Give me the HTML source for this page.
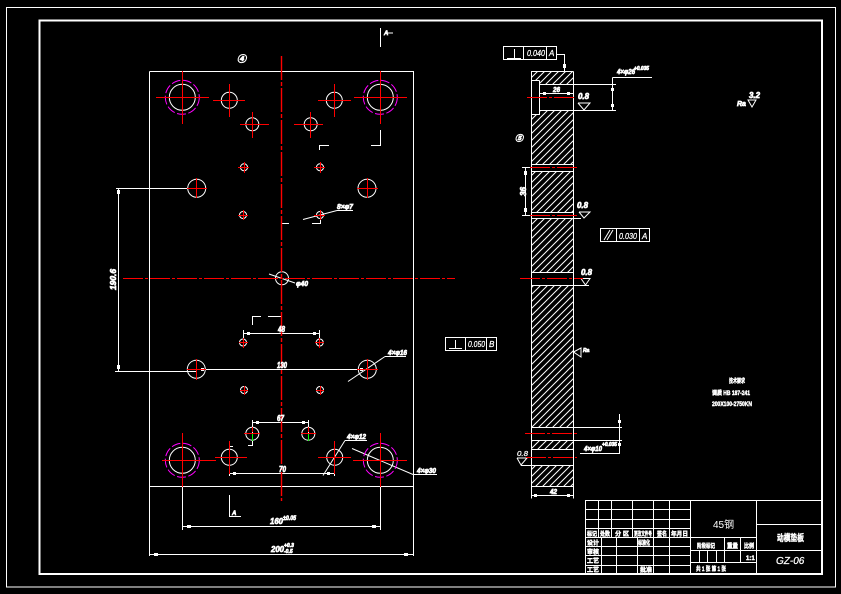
<!DOCTYPE html>
<html><head><meta charset="utf-8">
<style>
html,body{margin:0;padding:0;background:#000;width:841px;height:594px;overflow:hidden}
svg{display:block}
text{font-family:"Liberation Sans","Noto Sans CJK SC",sans-serif;fill:#fff;font-weight:bold}
.i{font-style:italic;stroke:#fff;stroke-width:.7}
.c{stroke:#fff;stroke-width:.45}
.t{font-weight:normal;font-style:italic;stroke:#fff;stroke-width:.25}
</style></head><body>
<svg width="841" height="594" viewBox="0 0 841 594" xmlns="http://www.w3.org/2000/svg">
<defs>
<pattern id="h" width="7" height="7" patternUnits="userSpaceOnUse">
<path d="M-1,1L1,-1M0,7L7,0M6,8L8,6" stroke="#fff" stroke-width="1"/>
</pattern>
</defs>
<rect width="841" height="594" fill="#000"/>
<!-- frames -->
<g fill="none" stroke="#fff" shape-rendering="crispEdges">
<rect x="6.5" y="7.5" width="829" height="579.5" stroke-width="1"/>
<rect x="39.5" y="20.5" width="782.5" height="553.5" stroke-width="2"/>
</g>

<!-- hatches -->
<g fill="url(#h)">
<rect x="531" y="71" width="42" height="13"/>
<rect x="531" y="110" width="42" height="54"/>
<rect x="531" y="171" width="42" height="41"/>
<rect x="531" y="219" width="42" height="54"/>
<rect x="531" y="285" width="42" height="142"/>
<rect x="531" y="440" width="42" height="9"/>
<rect x="531" y="465" width="42" height="22"/>
</g>
<rect x="532" y="81" width="7" height="33" fill="#000"/>

<!-- white lines -->
<g fill="none" stroke="#fff" stroke-width="1" shape-rendering="crispEdges">
<path d="M149.5,71.5H413.5V556M149.5,71.5V556M149.5,486.5H413.5"/>
<path d="M149.5,554.5H413.5M182.5,473V530M380.5,473V530M182.5,526.5H380.5"/>
<path d="M118.5,188.5V371.5M116,188.5H188M115,371.5H196M196.5,369.5H367"/>
<path d="M243.5,330V347M319.5,330V347M243.5,333.5H319.5"/>
<path d="M252.5,420V433M308.5,420V433M252.5,422.5H308.5"/>
<path d="M229.5,465V476M334.5,457V476M229.5,473.5H334.5"/>
<!-- section marks -->
<path d="M380.5,28V47M388,33H393M380.5,130V145.5H371M319.5,150V145.5H329M281,223.5H289M312,223.5H320.5V215"/>
<path d="M252.5,325V316.5H261M268,316.5H281M252.5,433V445.5H248M229.5,456V446.5H233M229.5,495V516.5H241"/>
<!-- leaders -->
<path d="M337,210.5H353"/><path d="M385,356.5H406"/><path d="M345,440.5H367"/><path d="M413,474.5H437"/>

<!-- side view -->
<path d="M531.5,71.5H573.5M531.5,71.5V498.5M573.5,71.5V498.5"/>
<path d="M539.5,80.5H531.5M539.5,80.5V114.5H531.5M539.5,84.5H616M539.5,110.5H616"/>
<path d="M531.5,164.5H573.5M531.5,171.5H573.5M531.5,212.5H573.5M531.5,218.5H581M531.5,272.5H573.5M531.5,285.5H589"/>
<path d="M531.5,427.5H622M531.5,440.5H622M531.5,449.5H573.5M521,465.5H573.5M531.5,486.5H573.5"/>
<path d="M531.5,495.5H573.5M540,93.5H573.5"/>
<path d="M612.5,84.5V110.5M612.5,77.5H652M612.5,77.5V84.5"/>
<path d="M525.5,167.5V215.5M522,167.5H531M522,215.5H531"/>
<path d="M619.5,414V453.5H580"/>
<!-- FCF boxes -->
<rect x="503.5" y="46.5" width="53" height="13"/>
<path d="M523.5,46.5V59.5M546.5,46.5V59.5M556.5,54.5H564.5V71M507,58.5H521M514.5,49V58"/>
<rect x="600.5" y="228.5" width="49" height="13"/>
<path d="M616.5,228.5V241.5M639.5,228.5V241.5"/>
<rect x="445.5" y="337.5" width="51" height="13"/>
<path d="M465.5,337.5V350.5M486.5,337.5V350.5M449,348.5H462M455.5,340V348"/>
<!-- title block -->
<rect x="585.5" y="500.5" width="236.5" height="73"/>
<path d="M585.5,509.5H690.5M585.5,519.5H690.5M585.5,528.5H690.5M585.5,537.5H756.5M585.5,546.5H690.5M585.5,555.5H690.5M585.5,565.5H690.5"/>
<path d="M598.5,500.5V537.5M611.5,500.5V537.5M632.5,500.5V537.5M653.5,500.5V574M669.5,500.5V574M690.5,500.5V574M756.5,500.5V574"/>
<path d="M601.5,537.5V574M616.5,537.5V574M637.5,537.5V574"/>
<path d="M756.5,524.5H822M756.5,550.5H822M690.5,550.5H756.5M690.5,562.5H756.5"/>
<path d="M724.5,537.5V562.5M740.5,537.5V562.5M699.5,550.5V562.5M707.5,550.5V562.5M716.5,550.5V562.5"/>
</g>

<!-- arrowheads -->
<g stroke="#fff" stroke-width="3" shape-rendering="crispEdges" fill="none">
<path d="M118.5,365V369M118.5,190V194M187,526.5H191M372,526.5H376M154,554.5H158M404,554.5H408"/>
<path d="M247,333.5H250M313,333.5H316M256,422.5H259M302,422.5H305M233,473.5H236M327,473.5H330M201,369.5H204M360,369.5H363"/>
<path d="M564.5,64V68M543,93.5H546M567,93.5H570M612.5,88V91M612.5,104V107M525.5,171V175M525.5,208V212"/>
<path d="M619.5,420V423M619.5,443V446M534,495.5H537M567,495.5H570"/>
</g>

<!-- slanted leaders -->
<g stroke="#fff" stroke-width="1" fill="none">
<path d="M269,274L295,283"/>
<path d="M303,219.5L337,210.5"/>
<path d="M348,381.5L385,356.5"/>
<path d="M323,475.5L345,440.5"/>
<path d="M352,448.5L413,474.5"/>
<!-- roughness -->
<path d="M578,103H590L584,110L578,103M579,212H590L584,218L579,212M581,278.5H590L585.5,285L581,278.5"/>
<path d="M517,458H527L521,465L517,458"/>
<path d="M573.5,352L581,348V357Z"/>
<path d="M748,100H756L752,107Z"/>
<!-- parallelism -->
<path d="M604,240L610,230M607,240L613,230"/>
</g>

<!-- holes -->
<g fill="none" stroke="#fff" stroke-width="1">
<circle cx="182.3" cy="97.3" r="13"/><circle cx="380.3" cy="97.3" r="13"/>
<circle cx="182.3" cy="460.3" r="13"/><circle cx="380.3" cy="460.3" r="13"/>
<circle cx="229.3" cy="100.3" r="8"/><circle cx="334.3" cy="100.3" r="8"/>
<circle cx="252.3" cy="124.3" r="6.5"/><circle cx="310.7" cy="124.3" r="6.5"/>
<circle cx="244" cy="167.3" r="3.5"/><circle cx="320" cy="167.3" r="3.5"/>
<circle cx="243" cy="215" r="3.5"/><circle cx="320" cy="215" r="3.5"/>
<circle cx="196.7" cy="188.3" r="9"/><circle cx="367" cy="188.3" r="9"/>
<circle cx="282" cy="278.3" r="6.5"/>
<circle cx="196.3" cy="369.3" r="9"/><circle cx="367.3" cy="369.3" r="9"/>
<circle cx="243" cy="342.5" r="3.5"/><circle cx="319.7" cy="342.5" r="3.5"/>
<circle cx="244" cy="390" r="3.5"/><circle cx="320" cy="390" r="3.5"/>
<circle cx="252.3" cy="433.7" r="6.5"/><circle cx="308.3" cy="433.7" r="6.5"/>
<circle cx="229.3" cy="457.3" r="8"/><circle cx="334.7" cy="457.3" r="8"/>
</g>
<g fill="none" stroke="#f0f" stroke-width="1" stroke-dasharray="9 2.5">
<circle cx="182.3" cy="97.3" r="17"/><circle cx="380.3" cy="97.3" r="17"/>
<circle cx="182.3" cy="460.3" r="17"/><circle cx="380.3" cy="460.3" r="17"/>
</g>

<!-- red center lines -->
<g stroke="#f00" stroke-width="1" fill="none" shape-rendering="crispEdges">
<path d="M156,97.5H209M182.5,71V124M354,97.5H407M380.5,71V124"/>
<path d="M162,460.5H216M182.5,433V487M353,460.5H407M380.5,433V487"/>
<path d="M213,100.5H245M229.5,84V117M318,100.5H351M334.5,84V117"/>
<path d="M240,124.5H269M252.5,112V138M294,124.5H323M310.5,112V138"/>
<path d="M238,167.5H249M244.5,162V173M314,167.5H325M320.5,162V173M238,215.5H248M243.5,210V220M314,215.5H325M320.5,210V220"/>
<path d="M187,188.5H207M196.5,178V198M357,188.5H378M367.5,178V198"/>
<path d="M187,369.5H206M196.5,359V380M357,369.5H378M367.5,359V380"/>
<path d="M239,342.5H248M243.5,338V348M315,342.5H324M319.5,338V348M240,390.5H248M244.5,386V395M316,390.5H324M320.5,386V395"/>
<path d="M244,433.5H260M252.5,427V432M301,433.5H316M308.5,427V432"/>
<path d="M215,457.5H247M229.5,441V474M318,457.5H351M334.5,441V474"/>
<path d="M123,278.5H455" stroke-dasharray="20 2 3 2"/>
<path d="M527,97.5H576M530,167.5H579M530,215.5H577M520,278.5H583M525,433.5H577M526,457.5H577" stroke-dasharray="20 2 3 2"/>
</g>
<path d="M281.5,56V501" fill="none" stroke="#ff0000" stroke-width="1.4" stroke-dasharray="24 2 4 2"/>
<g stroke="#0f0" stroke-width="1" shape-rendering="crispEdges" fill="none"><path d="M252.5,434V441M308.5,434V441"/></g>

<!-- labels -->
<g font-size="8">
<text class="i" x="237" y="62" font-size="9">④</text>
<text class="i" x="384" y="35" font-size="6">A</text>
<text class="i" x="232" y="515" font-size="6">A</text>
<text class="i" x="337" y="209" font-size="7" textLength="16" lengthAdjust="spacingAndGlyphs">8×φ7</text>
<text class="i" x="296" y="286" font-size="7" textLength="12" lengthAdjust="spacingAndGlyphs">φ40</text>
<text class="i" x="278" y="332" font-size="8" textLength="7" lengthAdjust="spacingAndGlyphs">48</text>
<text class="i" x="277" y="368" font-size="8" textLength="10" lengthAdjust="spacingAndGlyphs">130</text>
<text class="i" x="277" y="421" font-size="8" textLength="7" lengthAdjust="spacingAndGlyphs">67</text>
<text class="i" x="279" y="472" font-size="8" textLength="7" lengthAdjust="spacingAndGlyphs">70</text>
<text class="i" x="388" y="355" font-size="7" textLength="19" lengthAdjust="spacingAndGlyphs">4×φ16</text>
<text class="i" x="347" y="439" font-size="7" textLength="19" lengthAdjust="spacingAndGlyphs">4×φ12</text>
<text class="i" x="417" y="473" font-size="7" textLength="19" lengthAdjust="spacingAndGlyphs">4×φ30</text>
<text class="i" x="270" y="524" font-size="8" textLength="13" lengthAdjust="spacingAndGlyphs">160</text><text class="i" x="283" y="520" font-size="6" textLength="13" lengthAdjust="spacingAndGlyphs">±0.05</text>
<text class="i" x="271" y="552" font-size="8" textLength="13" lengthAdjust="spacingAndGlyphs">200</text><text class="i" x="284" y="547" font-size="5">+0.3</text><text class="i" x="284" y="553" font-size="5">-0.5</text>
<text class="i" transform="translate(116,290) rotate(-90)" font-size="8" textLength="21" lengthAdjust="spacingAndGlyphs">190.6</text>
<text class="i" transform="translate(526,196) rotate(-90)" font-size="8" textLength="9" lengthAdjust="spacingAndGlyphs">36</text>
<text class="i" x="553" y="92" font-size="7" textLength="7" lengthAdjust="spacingAndGlyphs">26</text>
<text class="i" x="550" y="494" font-size="7" textLength="7" lengthAdjust="spacingAndGlyphs">42</text>
<text class="i" x="617" y="74" font-size="7" textLength="18" lengthAdjust="spacingAndGlyphs">4×φ26</text><text class="i" x="634" y="70" font-size="5" textLength="15" lengthAdjust="spacingAndGlyphs">+0.035</text>
<text class="i" x="584" y="451" font-size="7" textLength="18" lengthAdjust="spacingAndGlyphs">4×φ10</text><text class="i" x="602" y="446" font-size="5" textLength="15" lengthAdjust="spacingAndGlyphs">+0.035</text>
<text class="i" x="578" y="99" font-size="8" textLength="11" lengthAdjust="spacingAndGlyphs">0.8</text>
<text class="i" x="577" y="208" font-size="8" textLength="11" lengthAdjust="spacingAndGlyphs">0.8</text>
<text class="i" x="581" y="275" font-size="8" textLength="11" lengthAdjust="spacingAndGlyphs">0.8</text>
<text class="t" x="517" y="456" font-size="7" textLength="11" lengthAdjust="spacingAndGlyphs">0.8</text>
<text class="i" x="583" y="352" font-size="5">Ra</text>
<text class="i" x="515" y="141" font-size="8">⑤</text>
<text x="527" y="56" font-size="8" class="t" textLength="18" lengthAdjust="spacingAndGlyphs">0.040</text>
<text x="549" y="56" font-size="8" class="t">A</text>
<text x="619" y="239" font-size="8" class="t" textLength="18" lengthAdjust="spacingAndGlyphs">0.030</text>
<text x="642" y="239" font-size="8" class="t">A</text>
<text x="468" y="347" font-size="8" class="t" textLength="17" lengthAdjust="spacingAndGlyphs">0.050</text>
<text x="489" y="347" font-size="8" class="t">B</text>
<text class="i" x="737" y="106" font-size="7">Ra</text>
<text class="i" x="749" y="98" font-size="8" textLength="11" lengthAdjust="spacingAndGlyphs">3.2</text>
<text class="c" x="729" y="383" font-size="6" textLength="16" lengthAdjust="spacingAndGlyphs">技术要求</text>
<text class="c" x="712" y="395" font-size="6" textLength="38" lengthAdjust="spacingAndGlyphs">调质 HB 187-241</text>
<text class="c" x="712" y="406" font-size="6" textLength="40" lengthAdjust="spacingAndGlyphs">200X100-2750KN</text>

<!-- title block text -->
<g font-size="6" class="c">
<text x="587" y="536" textLength="10" lengthAdjust="spacingAndGlyphs">标记</text><text x="600" y="536" textLength="10" lengthAdjust="spacingAndGlyphs">处数</text><text x="615" y="536" textLength="14" lengthAdjust="spacingAndGlyphs">分 区</text><text x="634" y="536" textLength="18" lengthAdjust="spacingAndGlyphs">更改文件号</text><text x="657" y="536" textLength="10" lengthAdjust="spacingAndGlyphs">签名</text><text x="671" y="536" textLength="17" lengthAdjust="spacingAndGlyphs">年月日</text>
<text x="587" y="545">设计</text><text x="638" y="545" textLength="12" lengthAdjust="spacingAndGlyphs">标准化</text>
<text x="587" y="554">审核</text>
<text x="587" y="563">工艺</text>
<text x="587" y="572">工艺</text><text x="640" y="572">批准</text>
<text x="697" y="548" textLength="18" lengthAdjust="spacingAndGlyphs">阶段标记</text><text x="727" y="548" textLength="11" lengthAdjust="spacingAndGlyphs">重量</text><text x="744" y="548" textLength="10" lengthAdjust="spacingAndGlyphs">比例</text>
<text x="696" y="571" textLength="30" lengthAdjust="spacingAndGlyphs">共 1 张 第 1 张</text>
<text x="746" y="560">1:1</text>
</g>
<text x="713" y="528" font-size="10" style="font-weight:normal">45钢</text>
<text x="777" y="541" font-size="9" class="c" textLength="27" lengthAdjust="spacingAndGlyphs">动模垫板</text>
<text x="776" y="564" font-size="10" class="t">GZ-06</text>
</g>
</svg>
</body></html>
